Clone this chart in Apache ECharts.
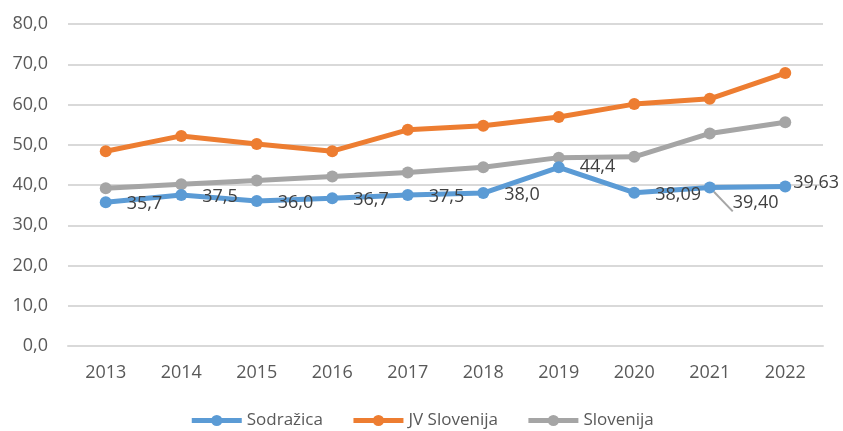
<!DOCTYPE html>
<html>
<head>
<meta charset="utf-8">
<script src="https://cdn.jsdelivr.net/npm/echarts@6/dist/echarts.min.js"></script>
<style>
  html, body { margin: 0; padding: 0; background: #ffffff; }
  #chart { width: 843px; height: 431px; }
</style>
</head>
<body>
<div id="chart"></div>
<script>
var years = ['2013', '2014', '2015', '2016', '2017', '2018', '2019', '2020', '2021', '2022'];
var sodrazica = [35.7, 37.5, 36.0, 36.7, 37.5, 38.0, 44.4, 38.09, 39.40, 39.63];
var sodrazicaLabels = ['35,7', '37,5', '36,0', '36,7', '37,5', '38,0', '44,4', '38,09', '39,40', '39,63'];
var jvSlovenija = [48.4, 52.2, 50.2, 48.4, 53.7, 54.7, 56.9, 60.1, 61.4, 67.8];
var slovenija = [39.2, 40.2, 41.1, 42.1, 43.1, 44.4, 46.8, 47.0, 52.8, 55.6];

var font = 'Open Sans';

var chartDom = document.getElementById('chart');
var myChart = echarts.init(chartDom);

// per-point label tweaks, like the original chart
var blueData = sodrazica.map(function (v, i) {
  var item = { value: v, label: { formatter: sodrazicaLabels[i] } };
  if (i === 6) item.label.offset = [10, 0];
  if (i === 8) {
    item.label.offset = [12, 15];
    item.labelLine = { show: true, lineStyle: { color: '#a6a6a6', width: 2 } };
  }
  if (i === 9) item.label.offset = [-3, -4];
  return item;
});

function series(name, color, data, z) {
  return {
    name: name,
    type: 'line',
    data: data,
    z: z,
    symbol: 'circle',
    symbolSize: 12,
    lineStyle: { color: color, width: 5 },
    itemStyle: { color: color },
    emphasis: { disabled: true },
    animation: false
  };
}

var blue = series('Sodražica', '#5b9bd5', blueData, 5);
blue.label = {
  show: true,
  position: 'right',
  offset: [10, 2],
  color: '#404040',
  fontFamily: font,
  fontSize: 18
};

var option = {
  backgroundColor: '#ffffff',
  color: ['#5b9bd5', '#ed7d31', '#a5a5a5'],
  grid: { left: 68, right: 20, top: 24, bottom: 85 },
  legend: {
    top: 407,
    left: 'center',
    itemWidth: 50,
    itemHeight: 14,
    itemGap: 28,
    lineStyle: { width: 5 },
    textStyle: { color: '#595959', fontFamily: font, fontSize: 17 },
    data: ['Sodražica', 'JV Slovenija', 'Slovenija']
  },
  xAxis: {
    type: 'category',
    data: years,
    boundaryGap: true,
    axisLine: { show: true, lineStyle: { color: '#d9d9d9', width: 2 } },
    axisTick: { show: false },
    axisLabel: { color: '#595959', fontFamily: font, fontSize: 18, margin: 18 }
  },
  yAxis: {
    type: 'value',
    min: 0,
    max: 80,
    interval: 10,
    axisLine: { show: false },
    axisTick: { show: false },
    splitLine: { lineStyle: { color: '#d9d9d9', width: 2 } },
    axisLabel: {
      color: '#595959',
      fontFamily: font,
      fontSize: 18,
      margin: 20,
      formatter: function (v) { return v.toFixed(1).replace('.', ','); }
    }
  },
  series: [
    blue,
    series('JV Slovenija', '#ed7d31', jvSlovenija, 3),
    series('Slovenija', '#a5a5a5', slovenija, 4)
  ]
};

myChart.setOption(option);
</script>
</body>
</html>
